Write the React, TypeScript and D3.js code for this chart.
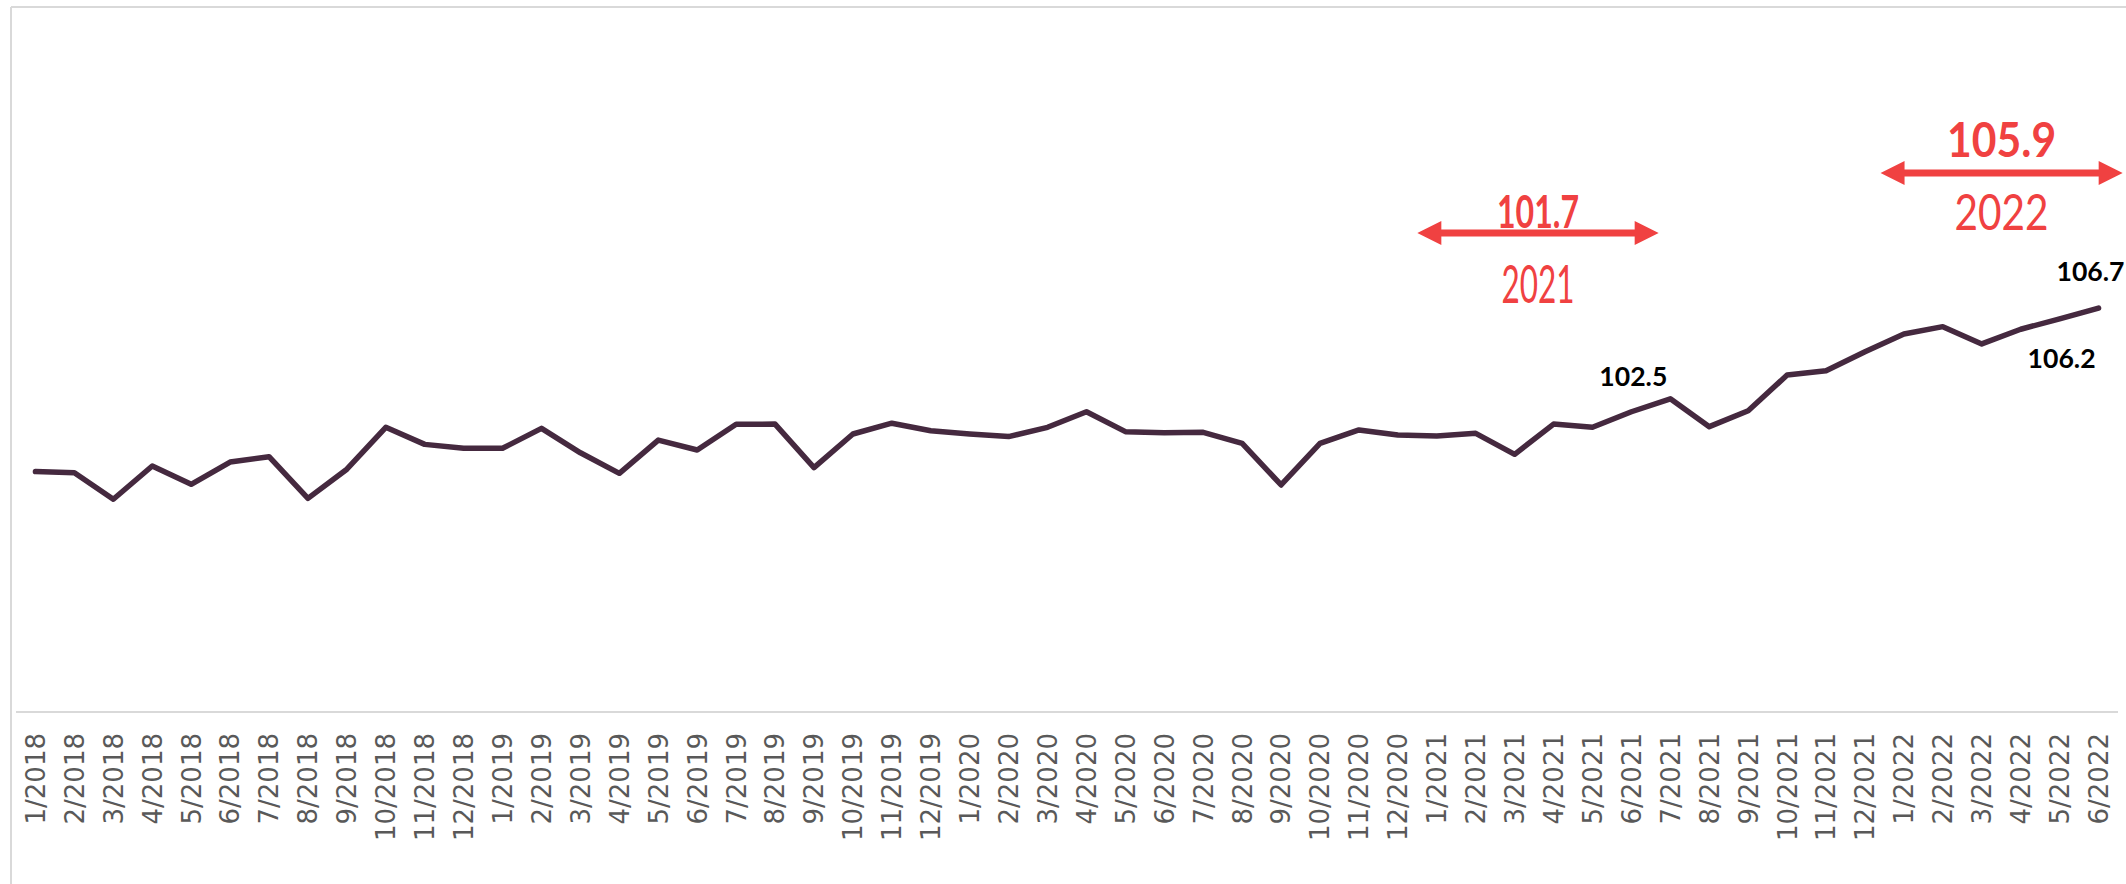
import React from 'react';
import * as d3 from 'd3';

const months: string[] = [
  '1/2018', '2/2018', '3/2018', '4/2018', '5/2018', '6/2018', '7/2018', '8/2018', '9/2018', '10/2018', '11/2018', '12/2018',
  '1/2019', '2/2019', '3/2019', '4/2019', '5/2019', '6/2019', '7/2019', '8/2019', '9/2019', '10/2019', '11/2019', '12/2019',
  '1/2020', '2/2020', '3/2020', '4/2020', '5/2020', '6/2020', '7/2020', '8/2020', '9/2020', '10/2020', '11/2020', '12/2020',
  '1/2021', '2/2021', '3/2021', '4/2021', '5/2021', '6/2021', '7/2021', '8/2021', '9/2021', '10/2021', '11/2021', '12/2021',
  '1/2022', '2/2022', '3/2022', '4/2022', '5/2022', '6/2022',
];

const values: number[] = [
  99.13, 99.08, 97.85, 99.39, 98.54, 99.57, 99.82, 97.89, 99.24, 101.18, 100.39, 100.21,
  100.21, 101.13, 100.0, 99.05, 100.59, 100.13, 101.32, 101.33, 99.31, 100.87, 101.37, 101.02,
  100.87, 100.75, 101.18, 101.9, 100.98, 100.93, 100.95, 100.44, 98.51, 100.44, 101.06, 100.82,
  100.78, 100.9, 99.93, 101.33, 101.18, 101.9, 102.5, 101.21, 101.95, 103.6, 103.8, 104.68,
  105.5, 105.84, 105.04, 105.72, 106.2, 106.7,
];

const pointLabels: { month: string; text: string }[] = [
  { month: '7/2021', text: '102.5' },
  { month: '5/2022', text: '106.2' },
  { month: '6/2022', text: '106.7' },
];

// yearly averages shown with double arrows (from/to in month-index units)
const yearAverages: { year: string; avg: string; from: number; to: number }[] = [
  { year: '2021', avg: '101.7', from: 35.5, to: 41.7 },
  { year: '2022', avg: '105.9', from: 47.4, to: 53.62 },
];

const W = 2126;
const H = 884;
const AXIS_Y = 712;
const LINE_COLOR = '#45293f';
const RED = '#f04141';

export default function App() {
  const x = d3.scaleBand<string>().domain(months).range([16, 2118]).padding(0);
  const cx = (m: string) => (x(m) ?? 0) + x.bandwidth() / 2;
  const xi = (i: number) => cx(months[0]) + i * x.step();
  const y = d3.scaleLinear().domain([88, 110]).range([AXIS_Y, AXIS_Y - 22 * 21.6]);

  const data = months.map((m, i) => ({ m, v: values[i] }));
  const line = d3
    .line<{ m: string; v: number }>()
    .x((d) => cx(d.m))
    .y((d) => y(d.v));

  const valOf = (m: string) => values[months.indexOf(m)];

  const arrow = (x1: number, x2: number, yy: number) => {
    const hl = 24, hh = 12, st = 3.6;
    return [
      [x1, yy], [x1 + hl, yy - hh], [x1 + hl, yy - st], [x2 - hl, yy - st], [x2 - hl, yy - hh],
      [x2, yy], [x2 - hl, yy + hh], [x2 - hl, yy + st], [x1 + hl, yy + st], [x1 + hl, yy + hh],
    ].map((p) => p.join(',')).join(' ');
  };

  const annot = [
    { arrowY: 233, avgY: 228, avgSize: 45, avgLen: 82, yearY: 303, yearSize: 52, yearLen: 73 },
    { arrowY: 173, avgY: 157, avgSize: 48, avgLen: 109, yearY: 230, yearSize: 50, yearLen: 94 },
  ];

  const labelOffsets: Record<string, { dx: number; dy: number; anchor: string }> = {
    '7/2021': { dx: -3, dy: -13, anchor: 'end' },
    '5/2022': { dx: 2, dy: 49, anchor: 'middle' },
    '6/2022': { dx: -8, dy: -27, anchor: 'middle' },
  };

  return (
    <div style={{ position: 'absolute', left: 0, top: 0 }}>
      <svg width={W} height={H} style={{ display: 'block', background: '#fff' }}>
        <line x1={11} y1={7} x2={W} y2={7} stroke="#d9d9d9" strokeWidth={2} />
        <line x1={11} y1={7} x2={11} y2={H} stroke="#d9d9d9" strokeWidth={2} />
        <line x1={16} y1={AXIS_Y} x2={2118} y2={AXIS_Y} stroke="#d9d9d9" strokeWidth={2} />
        {months.map((m) => (
          <text
            key={m}
            transform={`translate(${cx(m)},733) rotate(-90)`}
            textAnchor="end"
            dy="0.36em"
            fontFamily="DejaVu Sans"
            fontSize={26}
            fill="#595959"
          >
            {m}
          </text>
        ))}
        <path
          d={line(data) ?? ''}
          fill="none"
          stroke={LINE_COLOR}
          strokeWidth={5.5}
          strokeLinejoin="round"
          strokeLinecap="round"
        />
        {pointLabels.map((p) => {
          const o = labelOffsets[p.month];
          return (
            <text
              key={p.month}
              x={cx(p.month) + o.dx}
              y={y(valOf(p.month)) + o.dy}
              textAnchor={o.anchor}
              fontFamily="Lato, 'Open Sans', sans-serif"
              fontWeight={700}
              fontSize={27}
              textLength={68}
              lengthAdjust="spacingAndGlyphs"
              fill="#000"
            >
              {p.text}
            </text>
          );
        })}
        {yearAverages.map((a, i) => {
          const s = annot[i];
          const x1 = xi(a.from);
          const x2 = xi(a.to);
          const mid = (x1 + x2) / 2;
          return (
            <g key={a.year}>
              <polygon points={arrow(x1, x2, s.arrowY)} fill={RED} />
              <text
                x={mid}
                y={s.avgY}
                textAnchor="middle"
                fontFamily="Lato, 'Open Sans', sans-serif"
                fontWeight={700}
                fontSize={s.avgSize}
                textLength={s.avgLen}
                lengthAdjust="spacingAndGlyphs"
                fill={RED}
              >
                {a.avg}
              </text>
              <text
                x={mid}
                y={s.yearY}
                textAnchor="middle"
                fontFamily="Lato, 'Open Sans', sans-serif"
                fontWeight={400}
                fontSize={s.yearSize}
                textLength={s.yearLen}
                lengthAdjust="spacingAndGlyphs"
                fill={RED}
              >
                {a.year}
              </text>
            </g>
          );
        })}
      </svg>
    </div>
  );
}
